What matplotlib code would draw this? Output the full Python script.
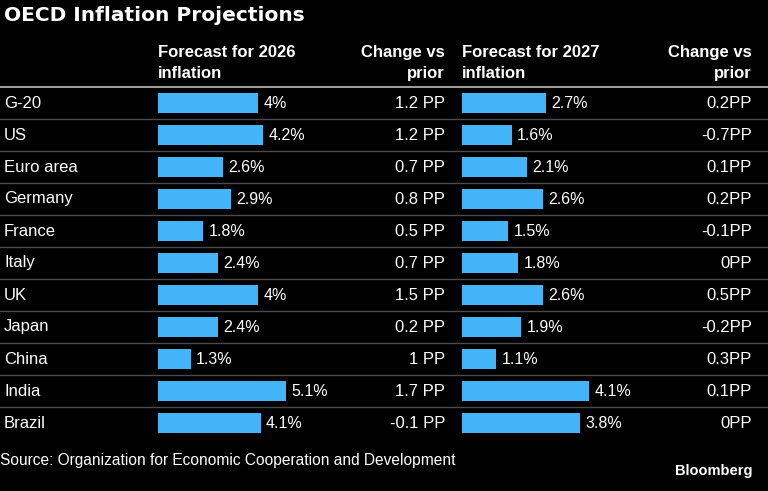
import matplotlib
matplotlib.use("Agg")
import matplotlib.pyplot as plt

countries = ["G-20", "US", "Euro area", "Germany", "France", "Italy", "UK",
             "Japan", "China", "India", "Brazil"]
forecast_2026 = [4.0, 4.2, 2.6, 2.9, 1.8, 2.4, 4.0, 2.4, 1.3, 5.1, 4.1]
change_2026 = ["1.2 PP", "1.2 PP", "0.7 PP", "0.8 PP", "0.5 PP", "0.7 PP",
               "1.5 PP", "0.2 PP", "1 PP", "1.7 PP", "-0.1 PP"]
forecast_2027 = [2.7, 1.6, 2.1, 2.6, 1.5, 1.8, 2.6, 1.9, 1.1, 4.1, 3.8]
change_2027 = ["0.2PP", "-0.7PP", "0.1PP", "0.2PP", "-0.1PP", "0PP",
               "0.5PP", "-0.2PP", "0.3PP", "0.1PP", "0PP"]
labels_2026 = ["4%", "4.2%", "2.6%", "2.9%", "1.8%", "2.4%", "4%", "2.4%",
               "1.3%", "5.1%", "4.1%"]
labels_2027 = ["2.7%", "1.6%", "2.1%", "2.6%", "1.5%", "1.8%", "2.6%", "1.9%",
               "1.1%", "4.1%", "3.8%"]

title = "OECD Inflation Projections"
source = "Source: Organization for Economic Cooperation and Development"

W, H = 768, 491
BG = "#000000"
BAR = "#42B4F7"
TXT = "#FFFFFF"
FONT = "Liberation Sans"

fig = plt.figure(figsize=(W / 100, H / 100), dpi=100, facecolor=BG)
ov = fig.add_axes([0, 0, 1, 1])
ov.set_xlim(0, W)
ov.set_ylim(H, 0)
ov.axis("off")
ov.set_facecolor(BG)

ov.text(4, 15, title, fontsize=14.5, fontweight="bold", color=TXT,
        family="DejaVu Sans", va="center", ha="left")

hdr = dict(fontsize=12, fontweight="bold", color=TXT, family=FONT, va="center")
ov.text(158, 52, "Forecast for 2026", ha="left", **hdr)
ov.text(158, 73, "inflation", ha="left", **hdr)
ov.text(445, 52, "Change vs", ha="right", **hdr)
ov.text(445, 73, "prior", ha="right", **hdr)
ov.text(462, 52, "Forecast for 2027", ha="left", **hdr)
ov.text(462, 73, "inflation", ha="left", **hdr)
ov.text(752, 52, "Change vs", ha="right", **hdr)
ov.text(752, 73, "prior", ha="right", **hdr)

top = 87
rowh = 32
n = len(countries)
ov.plot([0, 768], [top, top], color="#BDBDBD", lw=1.2)
for i in range(1, n):
    y = top + i * rowh
    ov.plot([0, 768], [y, y], color="#4A4A4A", lw=1.0)

cell = dict(fontsize=12, color=TXT, family=FONT, va="center")
for i, c in enumerate(countries):
    yc = top + (i + 0.5) * rowh
    ov.text(4, yc, c, ha="left", **cell)
    ov.text(445, yc, change_2026[i], ha="right", **cell)
    ov.text(752, yc, change_2027[i], ha="right", **cell)

ov.text(0, 460, source, fontsize=11.2, color=TXT, family=FONT, va="center", ha="left")
ov.text(752, 471, "Bloomberg", fontsize=10.5, fontweight="bold", color=TXT,
        family=FONT, va="center", ha="right")


def bar_axes(x0, width_px, values, labels, vmax):
    ax = fig.add_axes([x0 / W, (H - (top + n * rowh)) / H, width_px / W, n * rowh / H])
    ax.set_facecolor("none")
    ax.patch.set_alpha(0)
    ax.barh(range(n), values, height=0.63, color=BAR, left=0)
    ax.set_xlim(0, vmax)
    ax.set_ylim(n - 0.5, -0.5)
    ax.axis("off")
    for i, (v, lab) in enumerate(zip(values, labels)):
        ax.annotate(lab, (v, i), xytext=(4, 0), textcoords="offset points",
                    fontsize=11.5, color=TXT, family=FONT, va="center", ha="left",
                    annotation_clip=False)
    return ax


bar_axes(158, 128, forecast_2026, labels_2026, 5.12)
bar_axes(462, 127, forecast_2027, labels_2027, 4.1)

fig.savefig("out.png", dpi=100, facecolor=BG)
